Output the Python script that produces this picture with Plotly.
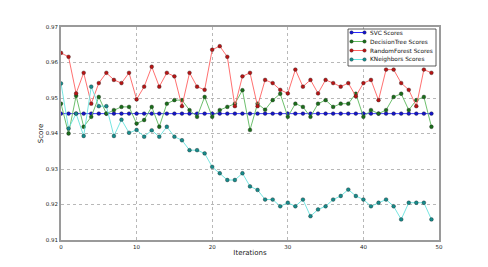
import plotly.graph_objects as go

iterations = list(range(50))

svc_scores = [0.9456] * 50

dt_scores = [0.9484, 0.9400, 0.9506, 0.9419, 0.9447, 0.9503, 0.9456, 0.9466, 0.9475, 0.9475,
             0.9428, 0.9438, 0.9475, 0.9419, 0.9484, 0.9494, 0.9494, 0.9466, 0.9447, 0.9503,
             0.9447, 0.9466, 0.9475, 0.9484, 0.9522, 0.9410, 0.9484, 0.9467, 0.9494, 0.9512,
             0.9447, 0.9484, 0.9475, 0.9447, 0.9484, 0.9494, 0.9475, 0.9484, 0.9484, 0.9512,
             0.9447, 0.9466, 0.9456, 0.9466, 0.9503, 0.9512, 0.9466, 0.9494, 0.9503, 0.9419]

rf_scores = [0.9627, 0.9616, 0.9513, 0.9571, 0.9484, 0.9542, 0.9571, 0.9551, 0.9542, 0.9571,
             0.9496, 0.9532, 0.9588, 0.9532, 0.9571, 0.9561, 0.9477, 0.9571, 0.9532, 0.9523,
             0.9636, 0.9646, 0.9616, 0.9477, 0.9561, 0.9571, 0.9477, 0.9551, 0.9542, 0.9523,
             0.9513, 0.9580, 0.9532, 0.9551, 0.9513, 0.9551, 0.9542, 0.9532, 0.9542, 0.9505,
             0.9542, 0.9551, 0.9494, 0.9580, 0.9580, 0.9542, 0.9523, 0.9477, 0.9580, 0.9571]

knn_scores = [0.9541, 0.9414, 0.9456, 0.9393, 0.9532, 0.9477, 0.9477, 0.9393, 0.9439, 0.9402,
              0.9410, 0.9391, 0.9409, 0.9391, 0.9419, 0.9391, 0.9381, 0.9353, 0.9353, 0.9344,
              0.9306, 0.9288, 0.9269, 0.9269, 0.9288, 0.9251, 0.9241, 0.9214, 0.9214, 0.9195,
              0.9205, 0.9195, 0.9214, 0.9167, 0.9186, 0.9195, 0.9214, 0.9224, 0.9242, 0.9224,
              0.9214, 0.9195, 0.9205, 0.9214, 0.9195, 0.9158, 0.9205, 0.9205, 0.9205, 0.9158]

x_ticks = [0, 10, 20, 30, 40, 50]
y_ticks = [0.91, 0.92, 0.93, 0.94, 0.95, 0.96, 0.97]

series = [
    ("SVC Scores", svc_scores, "#2a2aff", "#1414c8"),
    ("DecisionTree Scores", dt_scores, "#5cb85c", "#1a6e1a"),
    ("RandomForest Scores", rf_scores, "#ff6060", "#b81414"),
    ("KNeighbors Scores", knn_scores, "#66e2de", "#168c8c"),
]

W, H = 488, 267
OFF = 8  # default body margin of the html page
# plot area in page pixels: x 61..439, y 27..240
L, T = 61 - OFF, 27 - OFF
R, B = W - (439 - OFF), H - (240 - OFF)
PW, PH = 439 - 61, 240 - 27


def px(xp):  # page pixel -> paper
    return (xp - 61) / PW


def py(yp):
    return 1 - (yp - 27) / PH


fig = go.Figure()
for name, vals, lc, mc in series:
    fig.add_trace(go.Scatter(
        x=iterations, y=vals, name=name, mode="lines+markers",
        line=dict(color=lc, width=0.9),
        marker=dict(color=mc, size=3.8, line=dict(color="#1a1a1a", width=0.35)),
        showlegend=False,
    ))

# custom compact legend (matplotlib style)
shapes = [dict(type="rect", xref="paper", yref="paper",
               x0=px(348), x1=px(436), y0=py(66), y1=py(29),
               line=dict(color="#333", width=0.8), fillcolor="white", layer="above")]
annotations = []
for i, (name, vals, lc, mc) in enumerate(series):
    yy = py(32.5 + i * 9.0)
    shapes.append(dict(type="line", xref="paper", yref="paper",
                       x0=px(351.5), x1=px(364.5), y0=yy, y1=yy,
                       line=dict(color=lc, width=1), layer="above"))
    for xm in (351.5, 364.5):
        shapes.append(dict(type="circle", xref="paper", yref="paper",
                           xsizemode="pixel", ysizemode="pixel",
                           xanchor=px(xm), yanchor=yy,
                           x0=-1.8, x1=1.8, y0=-1.8, y1=1.8,
                           fillcolor=mc, line=dict(color="#1a1a1a", width=0.3),
                           layer="above"))
    annotations.append(dict(xref="paper", yref="paper", x=px(367.5), y=yy,
                            xanchor="left", yanchor="middle", showarrow=False,
                            text=name, font=dict(size=5.8, family="DejaVu Sans", color="#111")))

axis_common = dict(
    showgrid=True, gridcolor="#b8b8b8", griddash="dot", gridwidth=0.8,
    showline=True, linecolor="#9a9a9a", linewidth=1.6, mirror=True,
    ticks="", zeroline=False, automargin=False,
    tickfont=dict(family="DejaVu Sans", size=5.5, color="#222"),
)

fig.update_layout(
    width=W, height=H,
    margin=dict(l=L, r=R, t=T, b=B),
    paper_bgcolor="white", plot_bgcolor="white",
    font=dict(family="DejaVu Sans", size=7, color="#222"),
    xaxis=dict(range=[0, 50], tickvals=x_ticks, ticktext=[str(v) for v in x_ticks],
               ticklabelstandoff=1,
               title=dict(text="Iterations", font=dict(size=7), standoff=1),
               **axis_common),
    yaxis=dict(range=[0.91, 0.97], tickvals=y_ticks, ticktext=[f"{v:.2f}" for v in y_ticks],
               ticklabelstandoff=0,
               title=dict(text="Score", font=dict(size=7), standoff=1),
               **axis_common),
    shapes=shapes,
    annotations=annotations,
    showlegend=False,
)

fig.write_html("out.html")
